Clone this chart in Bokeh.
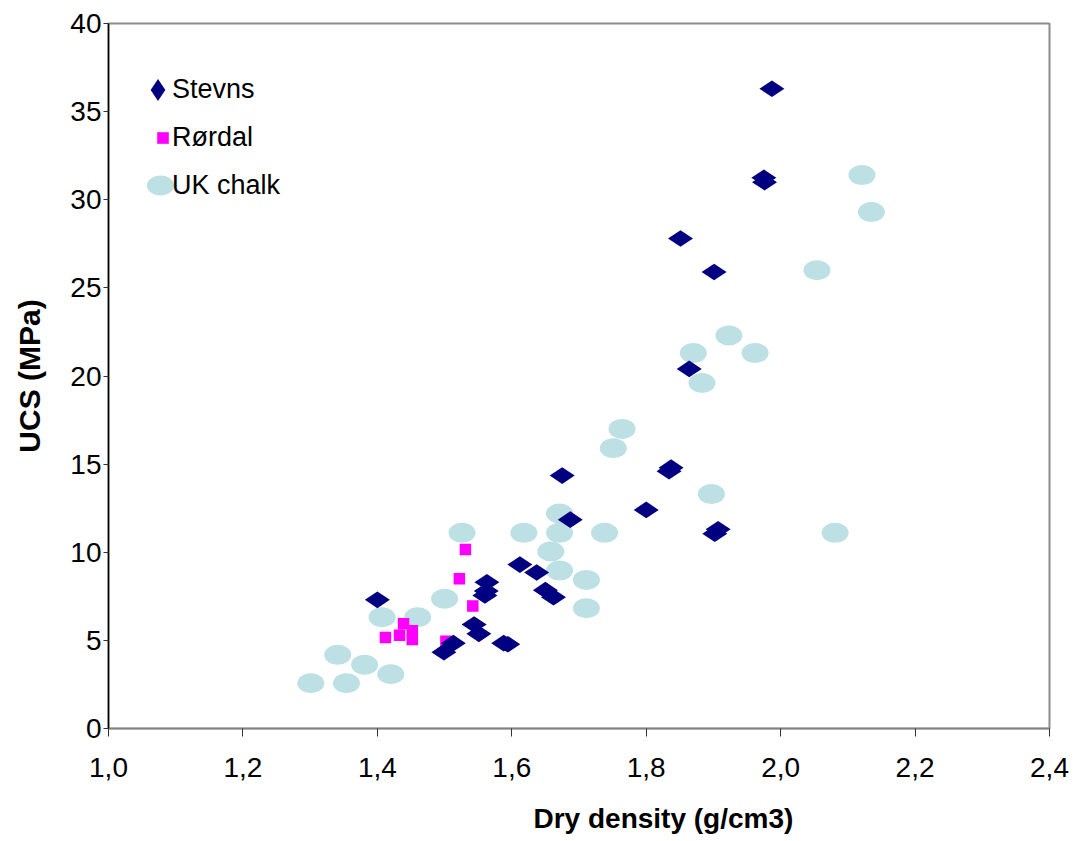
import math
from bokeh.plotting import figure
from bokeh.models import Legend, LegendItem, FixedTicker, Title
from bokeh.embed import file_html
from bokeh.resources import INLINE

# ---- data ----
stevns_x = [1.987, 1.975, 1.976, 1.851, 1.901, 1.864, 1.837, 1.834, 1.675, 1.800,
            1.687, 1.907, 1.902, 1.612, 1.637, 1.563, 1.562, 1.560, 1.650, 1.662,
            1.400, 1.551, 1.544, 1.499, 1.513, 1.588, 1.594]
stevns_y = [36.3, 31.25, 31.0, 27.8, 25.9, 20.4, 14.8, 14.6, 14.35, 12.4,
            11.85, 11.3, 11.05, 9.3, 8.85, 8.3, 7.8, 7.55, 7.85, 7.45,
            7.3, 5.37, 5.9, 4.33, 4.84, 4.84, 4.78]

rordal_x = [1.531, 1.522, 1.542, 1.412, 1.433, 1.439, 1.452, 1.452, 1.502]
rordal_y = [10.15, 8.5, 6.95, 5.16, 5.29, 5.95, 5.55, 5.05, 4.95]

uk_x = [2.121, 2.135, 2.054, 1.923, 1.870, 1.962, 1.883, 1.764, 1.751, 1.897,
        2.081, 1.738, 1.671, 1.618, 1.526, 1.671, 1.658, 1.671, 1.711, 1.711,
        1.500, 1.407, 1.460, 1.341, 1.381, 1.420, 1.301, 1.354]
uk_y = [31.4, 29.3, 26.0, 22.3, 21.3, 21.3, 19.6, 17.0, 15.9, 13.3,
        11.1, 11.1, 12.2, 11.1, 11.1, 11.1, 10.04, 8.96, 8.43, 6.82,
        7.36, 6.31, 6.31, 4.18, 3.61, 3.08, 2.57, 2.57]

x_ticks = [1.0, 1.2, 1.4, 1.6, 1.8, 2.0, 2.2, 2.4]
x_tick_labels = ["1,0", "1,2", "1,4", "1,6", "1,8", "2,0", "2,2", "2,4"]
y_ticks = [0, 5, 10, 15, 20, 25, 30, 35, 40]

series_names = ["Stevns", "Rørdal", "UK chalk"]
x_title = "Dry density (g/cm3)"
y_title = "UCS (MPa)"

FONT = "Liberation Sans"

p = figure(width=1073, height=840, x_range=(1.0, 2.4), y_range=(0, 40),
           output_backend="svg", toolbar_location=None,
           min_border_left=108, min_border_right=24, min_border_top=23,
           min_border_bottom=112)

p.grid.visible = False
p.background_fill_color = "white"
p.border_fill_color = "white"
p.outline_line_color = "#8c8c8c"
p.outline_line_width = 2

# x axis
xa = p.xaxis[0]
xa.ticker = FixedTicker(ticks=x_ticks)
xa.major_label_overrides = dict(zip(x_ticks, x_tick_labels))
xa.axis_line_color = "#808080"
xa.axis_line_width = 1.5
xa.major_tick_line_color = "#333333"
xa.major_tick_out = 8
xa.major_tick_in = 0
xa.minor_tick_line_color = None
xa.major_label_standoff = 21
xa.major_label_text_font = FONT
xa.major_label_text_font_size = "28px"
xa.major_label_text_color = "black"
# invisible spacer so that the title below sits lower
xa.axis_label = " "
xa.axis_label_text_font_size = "1px"
xa.axis_label_standoff = 17

# y axis
ya = p.yaxis[0]
ya.ticker = FixedTicker(ticks=y_ticks)
ya.axis_line_color = "black"
ya.axis_line_width = 1.5
ya.major_tick_line_color = "#333333"
ya.major_tick_out = 5
ya.major_tick_in = 0
ya.minor_tick_line_color = None
ya.major_label_standoff = 2
ya.major_label_text_font = FONT
ya.major_label_text_font_size = "28px"
ya.major_label_text_color = "black"
ya.axis_label = y_title
ya.axis_label_text_font = FONT
ya.axis_label_text_font_size = "30px"
ya.axis_label_text_font_style = "bold"
ya.axis_label_text_color = "black"
ya.axis_label_standoff = 21

# x title (offset to the right, as in the reference)
p.add_layout(Title(text=x_title, align="left", offset=425, standoff=0,
                   text_font=FONT, text_font_size="28px", text_font_style="bold",
                   text_color="black"), "below")

# glyphs
r_uk = p.ellipse(uk_x, uk_y, width=27, height=20, width_units="screen",
                 height_units="screen", fill_color="#BCE0E3", line_color=None)
r_rd = p.scatter(rordal_x, rordal_y, marker="square", size=11.5,
                 fill_color="#FF00FF", line_color=None)
r_st = p.scatter(stevns_x, stevns_y, marker="diamond", size=25, angle=math.pi / 2,
                 fill_color="#000080", line_color=None)


def glyph_legend(renderer, box, loc):
    lg = Legend(items=[LegendItem(label=" ", renderers=[renderer])],
                location=loc, glyph_width=box, glyph_height=box, label_height=box,
                label_standoff=0, label_width=1, padding=0, margin=0, spacing=0,
                border_line_color=None, background_fill_alpha=0,
                label_text_font_size="1px")
    p.add_layout(lg)


glyph_legend(r_st, 55, (21.5, 611.5))
glyph_legend(r_rd, 29, (39.5, 576.5))
glyph_legend(r_uk, 34, (35, 526))

text_legend = Legend(items=[LegendItem(label=n, renderers=[r])
                            for n, r in zip(series_names, [r_st, r_rd, r_uk])],
                     location=(63, 527), glyph_width=1, glyph_height=1,
                     label_height=32, label_standoff=0, padding=0, margin=0,
                     spacing=16, border_line_color=None, background_fill_alpha=0,
                     label_text_font=FONT, label_text_font_size="27px",
                     label_text_color="black")
p.add_layout(text_legend)

open("out.html", "w").write(file_html(p, INLINE))
